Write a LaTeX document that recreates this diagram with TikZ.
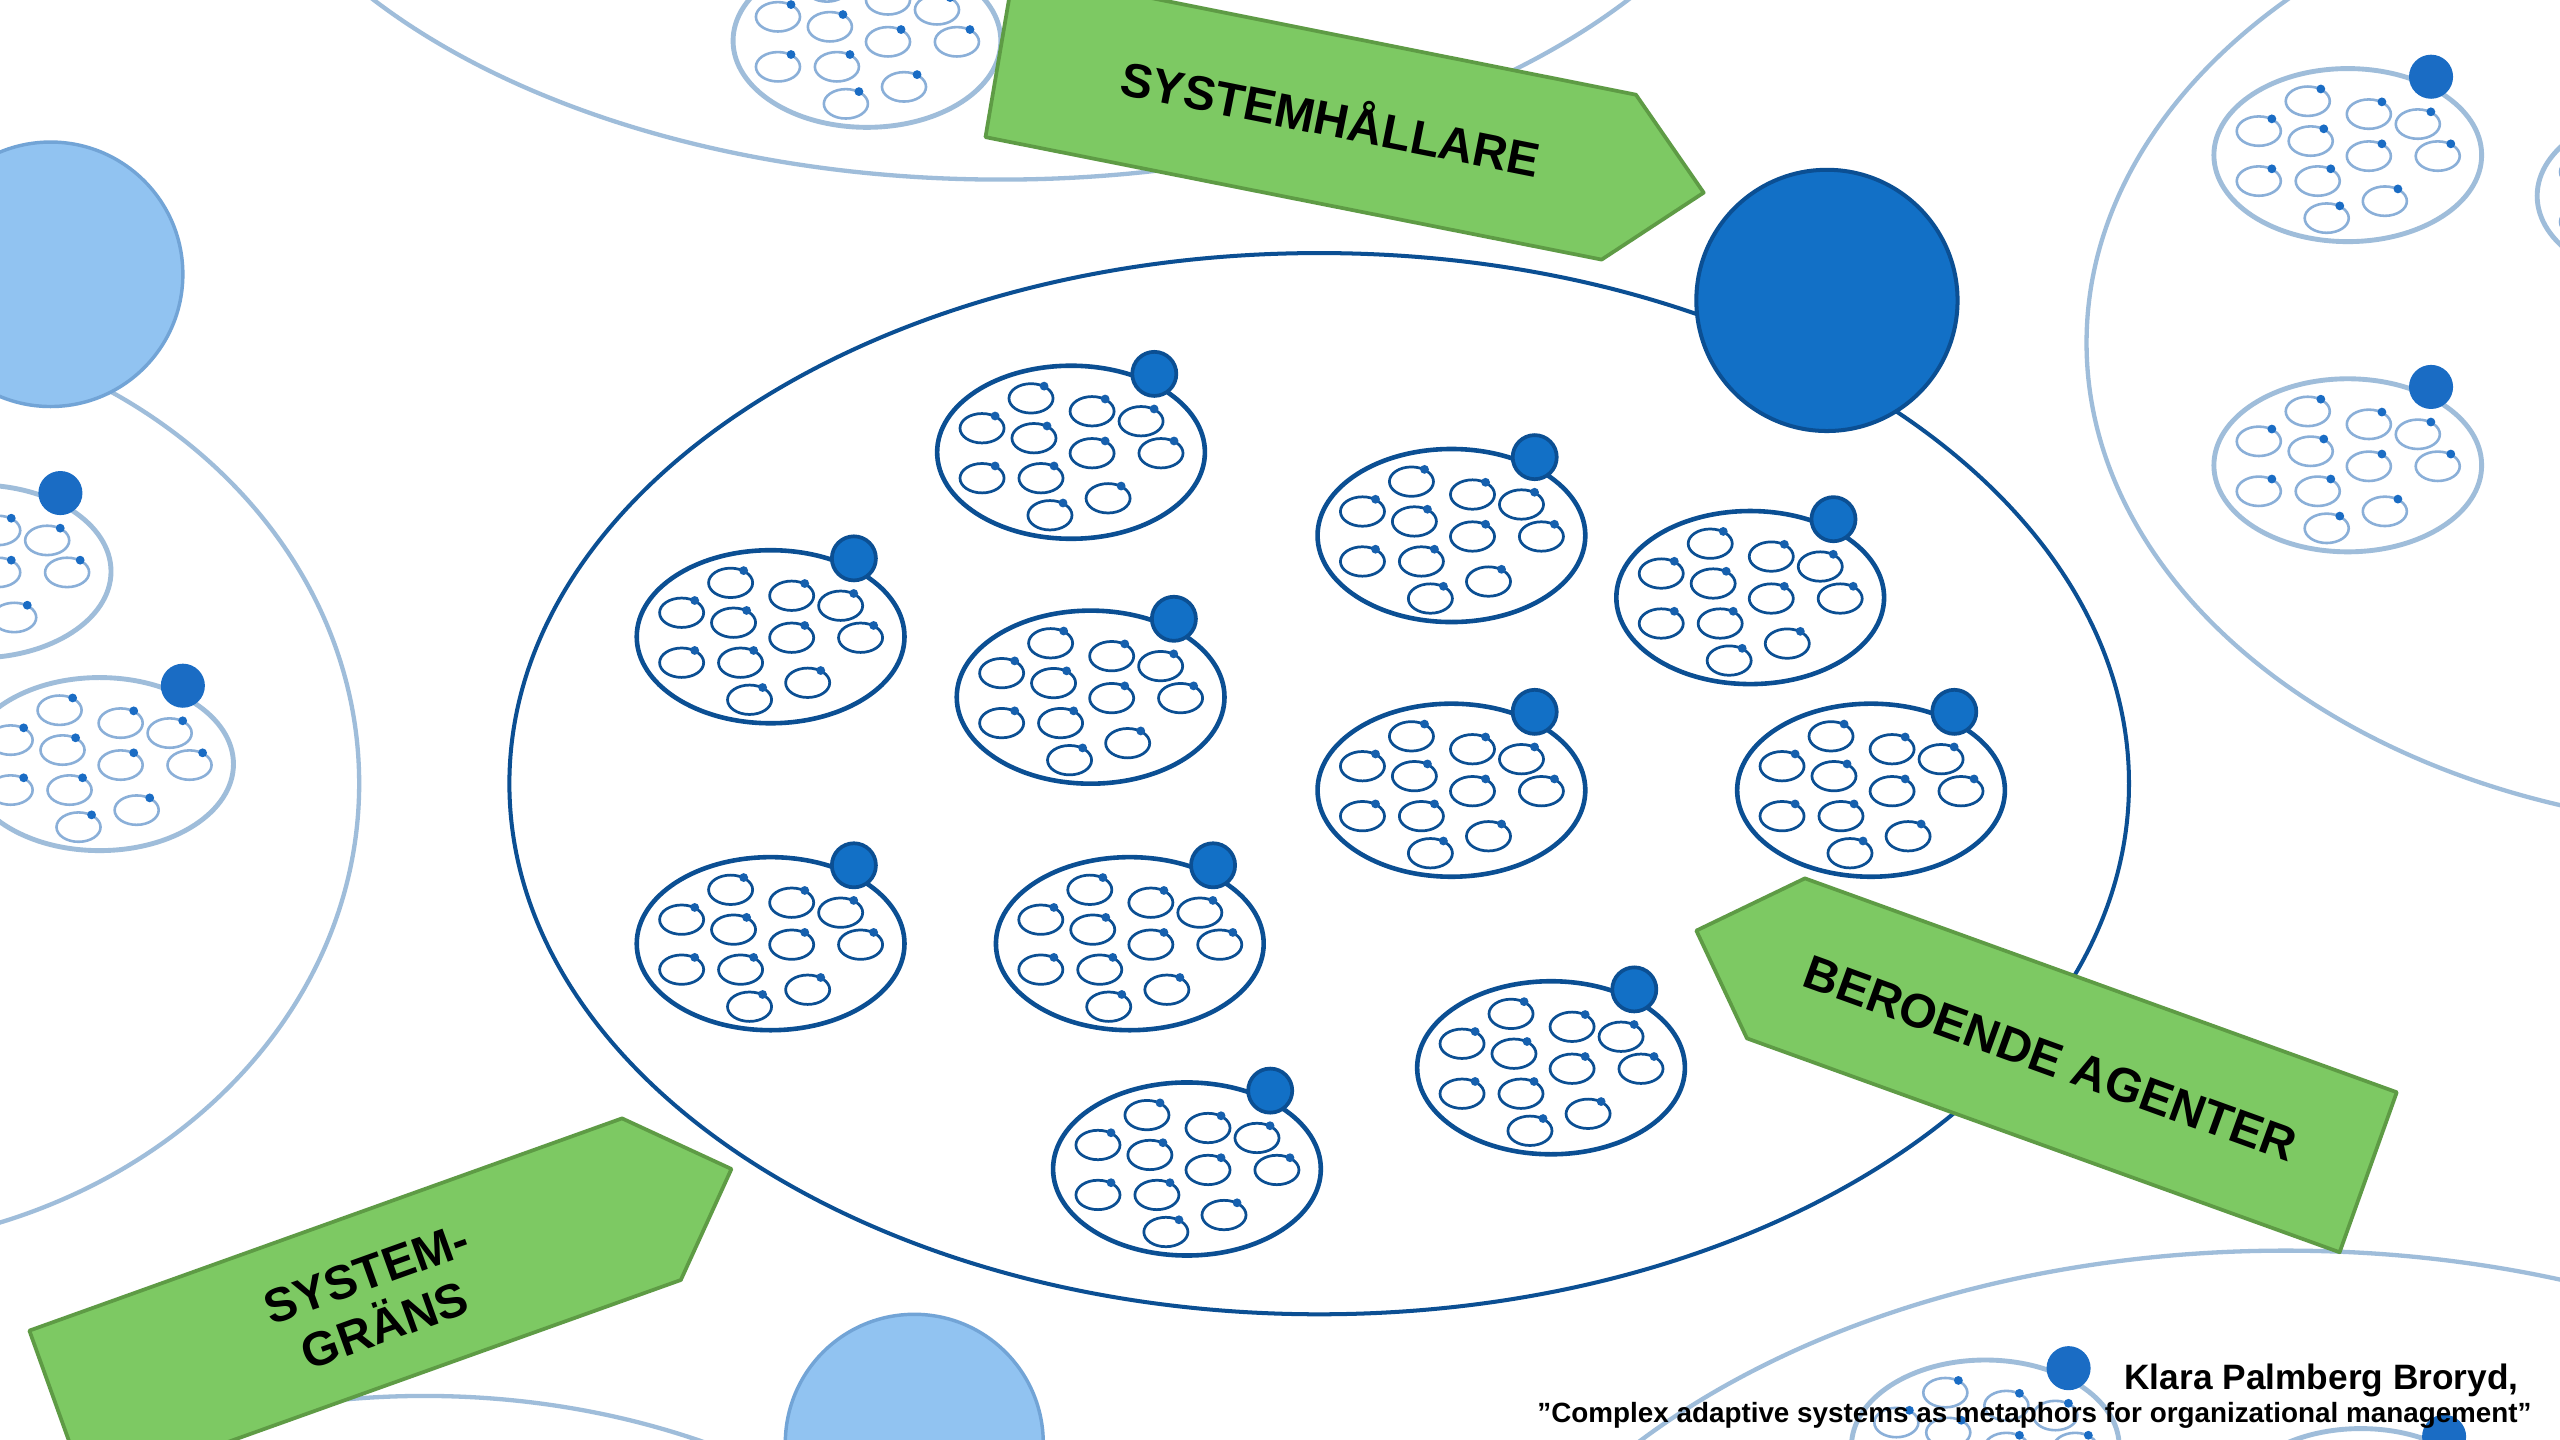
\documentclass[tikz,border=0pt]{standalone}
\usepackage{fontspec}
\setmainfont{Liberation Sans}
\definecolor{dkblue}{HTML}{0B4F93}
\definecolor{mdblue}{HTML}{1270C6}
\definecolor{sdot}{HTML}{1660AE}
\definecolor{grfill}{HTML}{7DC963}
\definecolor{grline}{HTML}{5E9B45}
\definecolor{fdline}{HTML}{9FBDDA}
\definecolor{fdring}{HTML}{8AAFD8}
\definecolor{fddot}{HTML}{1A6CC4}
\definecolor{ltfill}{HTML}{91C3F1}
\definecolor{ltline}{HTML}{72A4D6}
\tikzset{
  clouter/.style={draw=dkblue, line width=1.6pt, fill=white},
  clring/.style={draw=dkblue, line width=0.95pt},
  clsdot/.style={fill=sdot},
  cldot/.style={fill=mdblue, draw=dkblue, line width=1.3pt},
  faded/.style={
    clouter/.style={draw=fdline, line width=1.7pt, fill=white},
    clring/.style={draw=fdring, line width=0.9pt},
    clsdot/.style={fill=fddot},
    cldot/.style={fill=fddot}},
  fadedline/.style={draw=fdline, line width=1.5pt},
  lightcirc/.style={fill=ltfill, draw=ltline, line width=1.2pt},
  mainline/.style={draw=dkblue, line width=1.4pt},
  holder/.style={fill=mdblue, draw=dkblue, line width=1.4pt},
  greenarrow/.style={fill=grfill, draw=grline, line width=1.3pt, line join=round},
  lbl/.style={font=\bfseries\fontsize{16.7}{19.2}\selectfont, text=black, inner sep=0pt},
  pics/cluster/.style={code={
    \path[clouter] (0,0) ellipse [x radius=82, y radius=53];
    \foreach \a/\b in {-24.5/-33, -54.5/-14.7, -22.7/-8.6, 12.9/-25.1, 42.9/-19,
                       12.9/0.6, 55.1/0.6, -54.5/15.9, -18.4/15.9, 22.7/28.2, -12.9/38.6}{
      \path[clring] (\a,\b) ellipse [x radius=13.5, y radius=9];
      \path[clsdot] ({\a+8},{\b-7.5}) circle [radius=2.7];
    }
    \path[cldot] (51,-48) circle [radius=13.5];
  }},
}
\begin{document}
\begin{tikzpicture}[x=0.02cm, y=-0.02cm]
\useasboundingbox (0,0) rectangle (1568,882);
\clip (0,0) rectangle (1568,882);
\fill[white] (0,0) rectangle (1568,882);

% faded background systems
\path[fadedline] (613,-165) ellipse [x radius=480, y radius=275];
\path[fadedline] (-110,480) ellipse [x radius=330, y radius=285];
\path[fadedline] (1700,210) ellipse [x radius=422, y radius=298];
\path[fadedline] (1400,1100) ellipse [x radius=521, y radius=334];
\path[fadedline] (260,1150) ellipse [x radius=400, y radius=295];
\path[lightcirc] (31,168) circle [radius=81];
\path[lightcirc] (560,884) circle [radius=79];
\begin{scope}[faded]
  \pic (f1) at (531,25) {cluster};
  \pic (f2) at (-14,350) {cluster};
  \pic (f3) at (61,468) {cluster};
  \pic (f4) at (1438,95) {cluster};
  \pic (f5) at (1438,285) {cluster};
  \pic (f6) at (1636,120) {cluster};
  \pic (f7) at (1216,886) {cluster};
  \pic (f8) at (1446,928) {cluster};
\end{scope}

% main system
\path[mainline, fill=white] (808,480) ellipse [x radius=496, y radius=325];
\path[holder] (1119,184) circle [radius=80];
\pic (c1) at (656,277) {cluster};
\pic (c2) at (472,390) {cluster};
\pic (c3) at (668,427) {cluster};
\pic (c4) at (889,328) {cluster};
\pic (c5) at (1072,366) {cluster};
\pic (c6) at (889,484) {cluster};
\pic (c7) at (1146,484) {cluster};
\pic (c8) at (472,578) {cluster};
\pic (c9) at (692,578) {cluster};
\pic (c10) at (950,654) {cluster};
\pic (c11) at (727,716) {cluster};

% green arrows
\path[greenarrow] (621,-18) -- (1002,58) -- (1043.5,118) -- (981,159) -- (603.6,84) -- cycle;
\node[lbl, rotate=-11.25, text height=12pt, text depth=0pt] (t1) at (815,73) {SYSTEMHÅLLARE};

\path[greenarrow] (1039,570) -- (1105.5,538) -- (1468,669) -- (1433,767) -- (1070,636) -- cycle;
\node[lbl, rotate=-19.87, text height=12pt, text depth=0pt] (t2) at (1256,648) {BEROENDE AGENTER};

\path[greenarrow] (18,815) -- (381,685) -- (448,716) -- (417,784) -- (53.5,914) -- cycle;
\node[lbl, rotate=19.7, align=center] (t3) at (230,796) {SYSTEM-\\GRÄNS};

% footer
\node[font=\bfseries\fontsize{12.3}{14}\selectfont, anchor=base east, inner sep=0pt] (au) at (1543,851) {Klara Palmberg Broryd,};
\node[font=\bfseries\fontsize{9.7}{11}\selectfont, anchor=base east, inner sep=0pt] (ti) at (1551,871) {”Complex adaptive systems as metaphors for organizational management”};
\end{tikzpicture}
\end{document}
